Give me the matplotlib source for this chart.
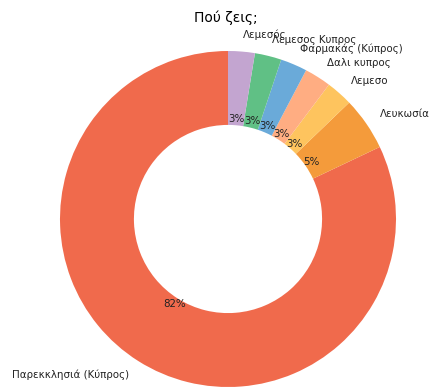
import matplotlib.pyplot as plt

# answers to the question and how many people gave each one
places = ['Παρεκκλησιά (Κύπρος)', 'Λευκωσία', 'Λεμεσο', 'Δαλι κυπρος',
          'Φαρμακάς (Κύπρος)', 'Λεμεσος Κυπρος', 'Λεμεσός']
counts = [32, 2, 1, 1, 1, 1, 1]
colours = ['#f06a4c', '#f49b3b', '#fec45e', '#ffad82',
           '#6aaad9', '#60c085', '#c3a5d0']

fig = plt.figure(figsize=(4.31, 3.88), dpi=100)
W, H = 431, 388
cx, cy, r = 228, 219, 168
half = 1.25 * r
ax = fig.add_axes([(cx - half) / W, (H - cy - half) / H, 2 * half / W, 2 * half / H])

ax.pie(counts, labels=places, colors=colours, startangle=90, counterclock=True,
       autopct='%1.0f%%', pctdistance=0.6, labeldistance=1.1,
       wedgeprops=dict(width=0.44, linewidth=0),
       textprops=dict(fontsize=7.4, color='#222222'))
ax.set_xlim(-1.25, 1.25)
ax.set_ylim(-1.25, 1.25)
ax.set_aspect('equal')

fig.text(226 / W, 1 - 18 / H, 'Πού ζεις;', ha='center', va='center', fontsize=10)

fig.savefig('out.png', dpi=100)
